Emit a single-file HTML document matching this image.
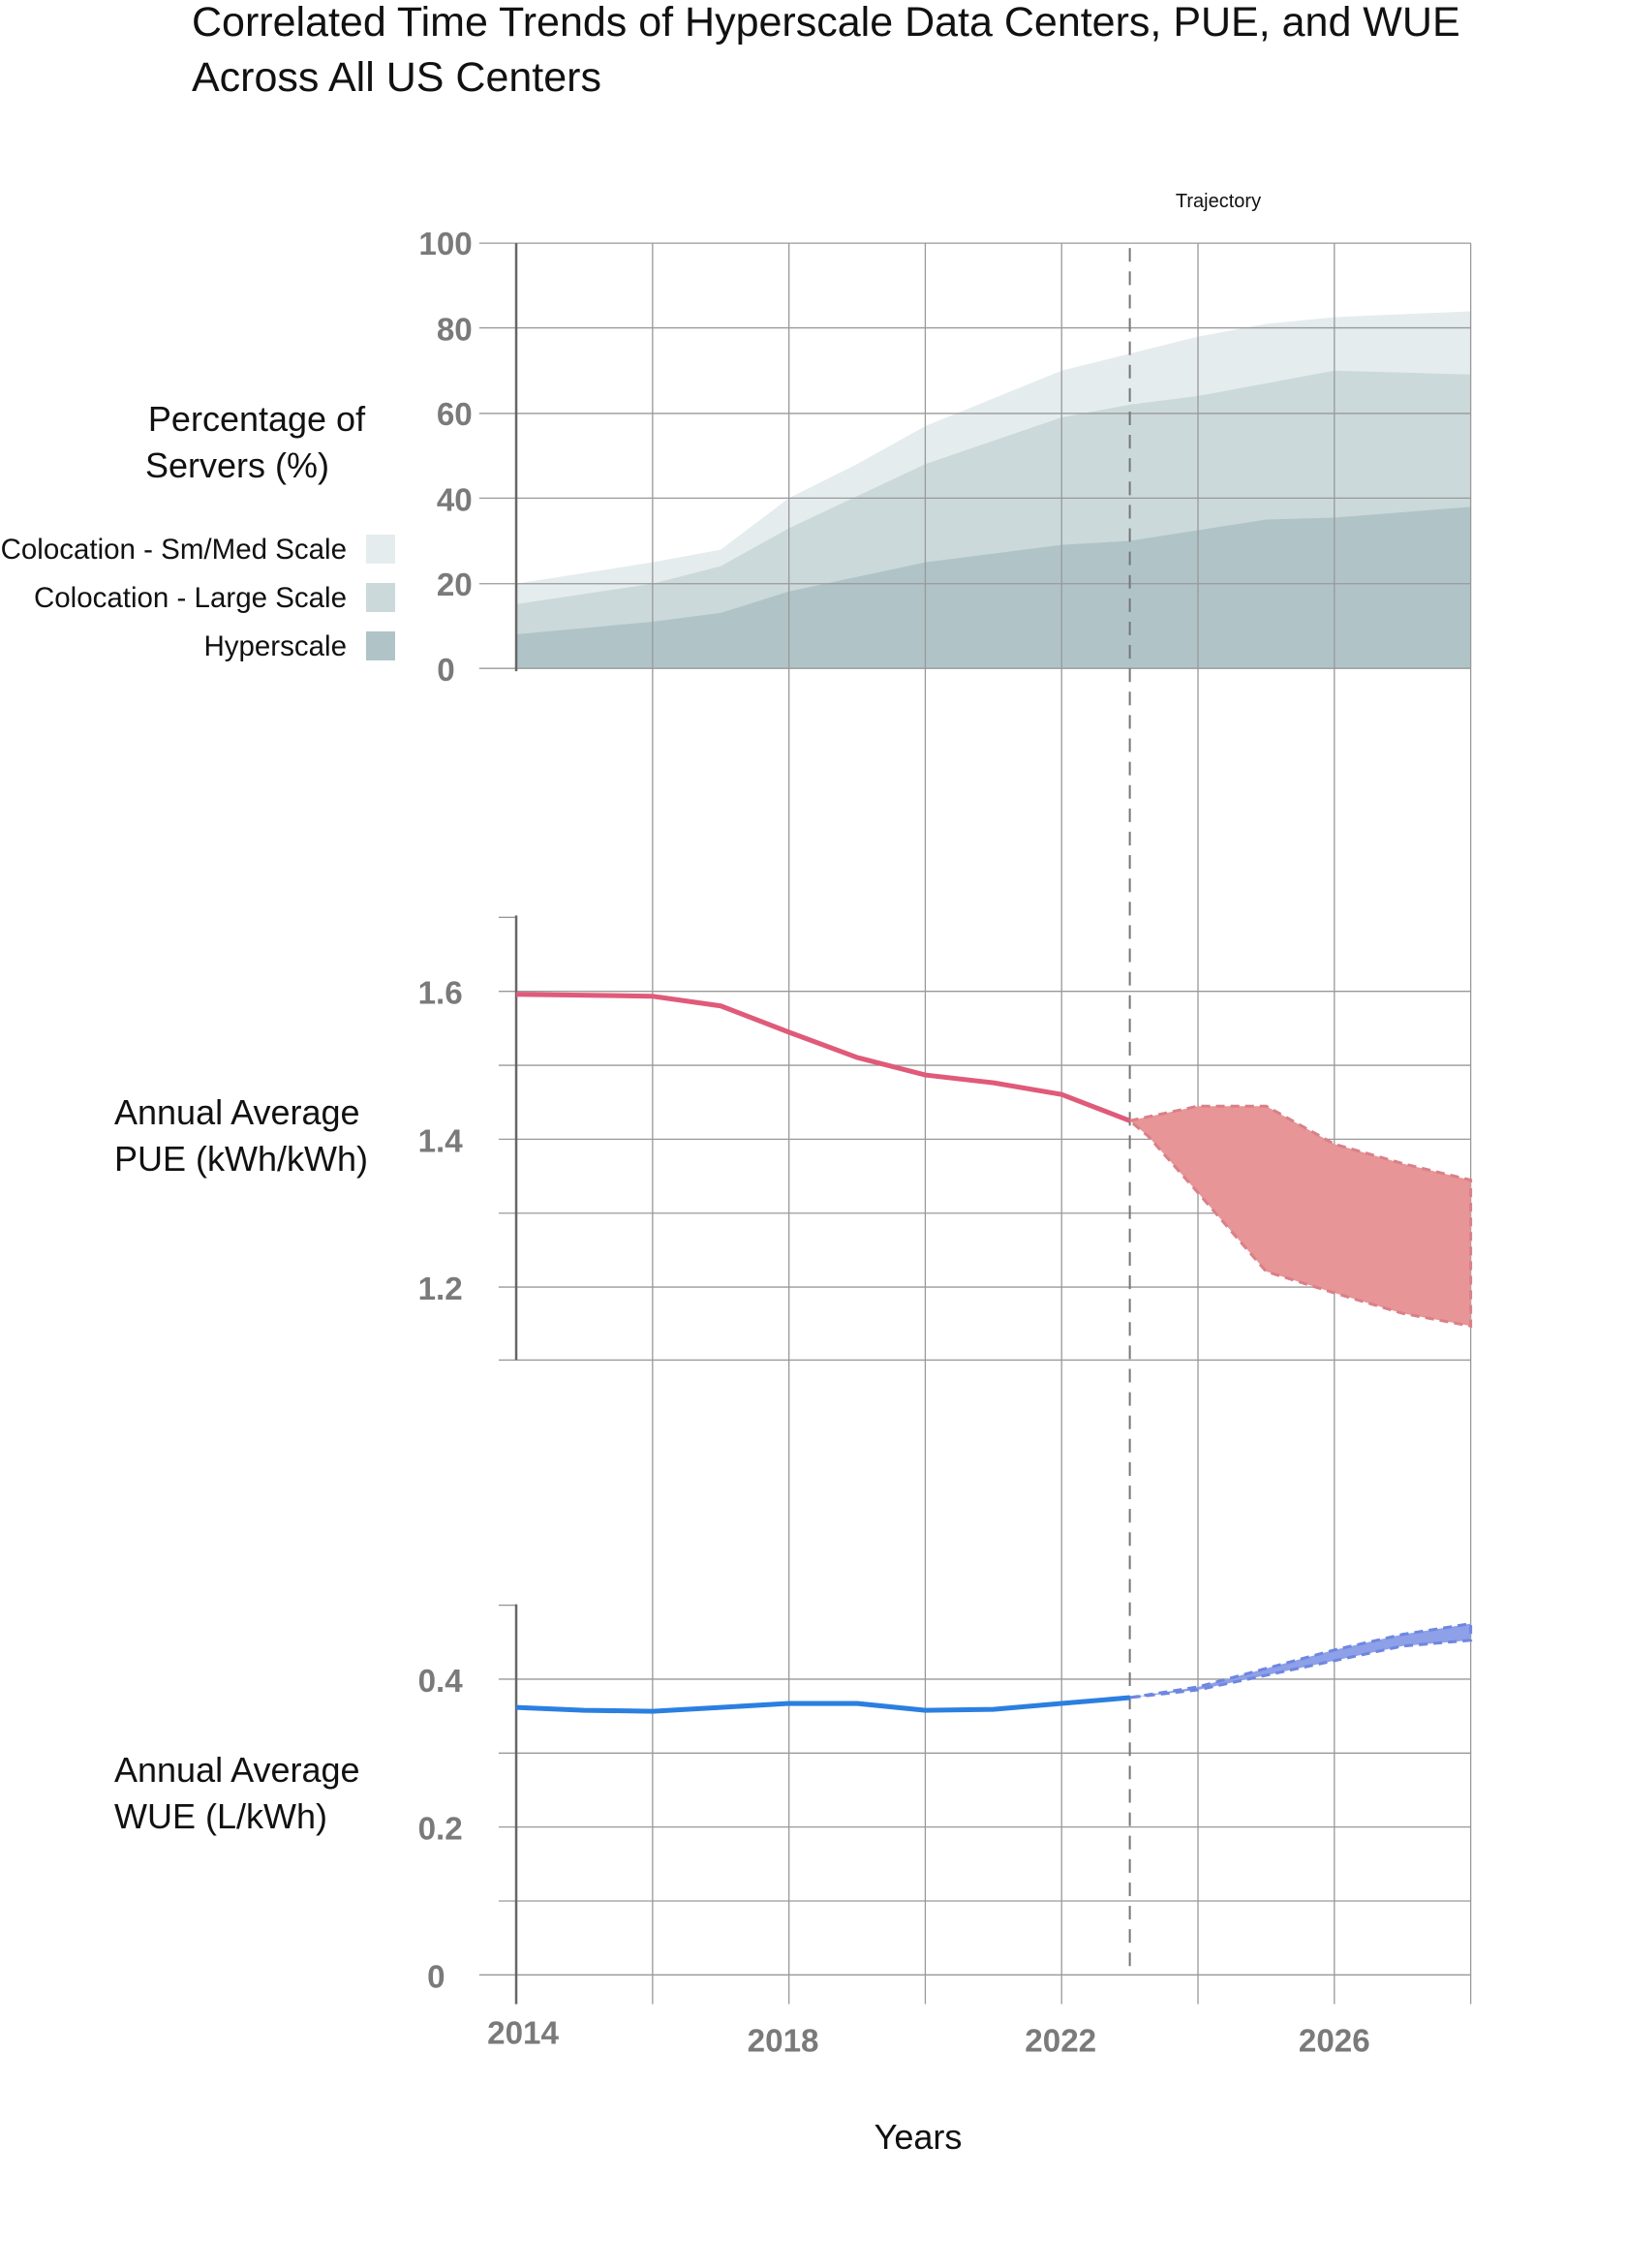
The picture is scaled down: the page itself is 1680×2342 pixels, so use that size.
<!DOCTYPE html>
<html><head><meta charset="utf-8"><style>
body{margin:0;background:#fff;}
svg{display:block;font-family:"Liberation Sans",sans-serif;}
.t{fill:#7a7a7a;font-size:33px;font-weight:bold;text-anchor:end;}
.l{fill:#111;font-size:36px;}
.g{stroke:#999;stroke-width:1.3;fill:none;}
</style></head><body>
<svg width="1680" height="2342" viewBox="0 0 1680 2342">
<text x="198" y="37" font-size="43" fill="#111">Correlated Time Trends of Hyperscale Data Centers, PUE, and WUE</text>
<text x="198" y="94" font-size="43" fill="#111">Across All US Centers</text>
<text x="1258" y="214" font-size="20" fill="#111" text-anchor="middle">Trajectory</text>

<g transform="matrix(1.0057 0 0 1.0046 -1 0)">
<path d="M531,600 L671,578 L741,565 L811,512 L881,477 L951,438 L1091,381 L1231,346 L1301,333 L1371,326 L1511,320 L1511,687 L531,687Z" fill="#e4ecee"/>
<path d="M531,621 L671,600 L741,582 L811,543 L951,477 L1091,429 L1161,416 L1231,407 L1371,381 L1511,385 L1511,687 L531,687Z" fill="#cbd9db"/>
<path d="M531,652 L671,639 L741,630 L811,608 L951,578 L1091,560 L1161,556 L1231,545 L1301,534 L1371,532 L1511,521 L1511,687 L531,687Z" fill="#b0c4c8"/>

<g class="g">
<path d="M671,250V2060M811,250V2060M951,250V2060M1091,250V2060M1231,250V2060M1371,250V2060M1511,250V2060"/>
<path d="M493,250H1511M493,337H1511M493,425H1511M493,512H1511M493,600H1511M493,687H1511"/>
<path d="M513,943H531M513,1019H1511M513,1095H1511M513,1171H1511M513,1247H1511M513,1323H1511M513,1398H1511"/>
<path d="M513,1650H531M513,1726H1511M513,1802H1511M513,1878H1511M513,1954H1511M493,2030H1511"/>
</g>
<g stroke="#666" stroke-width="2.5">
<path d="M531,250V690M531,941V1398M531,1649V2060"/>
</g>
<path d="M1161,255V2030" stroke="#777" stroke-width="2" stroke-dasharray="14,10"/>

<path d="M1161,1152 L1231,1137 L1301,1137 L1371,1176 L1441,1196 L1511,1213 L1511,1363 L1441,1350 L1371,1329 L1301,1307 L1231,1226 L1180,1168Z" fill="#e89597" stroke="#d98088" stroke-width="3" stroke-dasharray="9,6"/>
<path d="M531,1022 L671,1024 L741,1034 L811,1061 L881,1087 L951,1105 L1021,1113 L1091,1125 L1161,1152" fill="none" stroke="#e05a7a" stroke-width="5"/>

<path d="M1161,1745 L1231,1734 L1301,1715 L1371,1696 L1441,1680 L1511,1669 L1511,1686 L1441,1692 L1371,1707 L1301,1722 L1231,1737Z" fill="#8da0e8" stroke="#6f86e0" stroke-width="3" stroke-dasharray="9,6"/>
<path d="M531,1755 L601,1758 L671,1759 L741,1755 L811,1751 L881,1751 L951,1758 L1021,1757 L1091,1751 L1161,1745" fill="none" stroke="#2b7fe0" stroke-width="5"/>

<text class="t" x="486" y="262">100</text>
<text class="t" x="486" y="350">80</text>
<text class="t" x="486" y="437">60</text>
<text class="t" x="486" y="525">40</text>
<text class="t" x="486" y="612">20</text>
<text class="t" x="468" y="700">0</text>
<text class="t" x="476" y="1032">1.6</text>
<text class="t" x="476" y="1184">1.4</text>
<text class="t" x="476" y="1336">1.2</text>
<text class="t" x="476" y="1739">0.4</text>
<text class="t" x="476" y="1891">0.2</text>
<text class="t" x="458" y="2043">0</text>
<g class="t" style="text-anchor:middle">
<text x="538" y="2101">2014</text>
<text x="805" y="2109">2018</text>
<text x="1090" y="2109">2022</text>
<text x="1371" y="2109">2026</text>
</g>
</g>
<text x="948" y="2219" class="l" text-anchor="middle">Years</text>

<text x="265" y="445" class="l" text-anchor="middle">Percentage of</text>
<text x="150" y="493" class="l">Servers (%)</text>
<text x="118" y="1161" class="l">Annual Average</text>
<text x="118" y="1209" class="l">PUE (kWh/kWh)</text>
<text x="118" y="1840" class="l">Annual Average</text>
<text x="118" y="1888" class="l">WUE (L/kWh)</text>

<g font-size="29.5" fill="#111" text-anchor="end">
<text x="358" y="577">Colocation - Sm/Med Scale</text>
<text x="358" y="627">Colocation - Large Scale</text>
<text x="358" y="677">Hyperscale</text>
</g>
<rect x="378" y="552" width="30" height="30" fill="#e4ecee"/>
<rect x="378" y="602" width="30" height="30" fill="#cbd9db"/>
<rect x="378" y="652" width="30" height="30" fill="#b0c4c8"/>
</svg>
</body></html>
